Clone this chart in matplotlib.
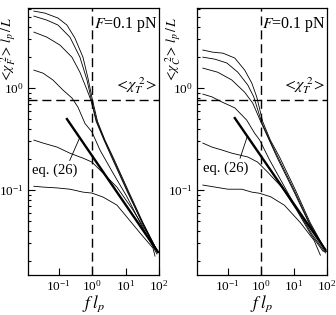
import numpy as np
import matplotlib
matplotlib.use("Agg")
from matplotlib import pyplot as plt

plt.rcParams['font.family'] = ['Liberation Serif', 'DejaVu Serif']
plt.rcParams['mathtext.fontset'] = 'stix'

# ---- data ----
# left panel: <chi_F^2> l_p / L  vs  f l_p
fA = [0.018, 0.039, 0.095, 0.176, 0.305, 0.53, 0.75, 0.99, 1.45, 2.4, 4.2, 11.8, 33, 93]
yA = [5.69, 5.43, 4.86, 4.15, 3.09, 2.01, 1.25, 0.80, 0.47, 0.31, 0.211, 0.10, 0.048, 0.0246]
fB = [0.018, 0.044, 0.095, 0.216, 0.43, 0.70, 0.92, 1.38, 2.35, 4.0, 11.5, 33, 93]
yB = [5.08, 4.64, 4.15, 3.16, 2.01, 1.2, 0.80, 0.47, 0.31, 0.211, 0.098, 0.047, 0.0246]
fC = [0.018, 0.044, 0.109, 0.248, 0.43, 0.70, 0.92, 1.32, 2.25, 3.8, 11.0, 32, 92]
yC = [3.54, 3.16, 2.64, 2.01, 1.43, 0.96, 0.76, 0.47, 0.31, 0.211, 0.098, 0.047, 0.0245]
fD = [0.018, 0.034, 0.067, 0.134, 0.248, 0.376, 0.61, 0.99, 1.71, 4.2, 11, 30, 87]
yD = [1.5, 1.40, 1.2, 0.956, 0.80, 0.65, 0.45, 0.37, 0.247, 0.147, 0.086, 0.045, 0.0236]
fE = [0.018, 0.034, 0.089, 0.216, 0.43, 0.53, 0.99, 2.1, 5.5, 16.7, 44, 76]
yE = [0.309, 0.289, 0.264, 0.23, 0.211, 0.206, 0.188, 0.147, 0.107, 0.0637, 0.038, 0.0276]
fF = [0.018, 0.034, 0.089, 0.216, 0.53, 0.99, 2.1, 5.5, 11, 27, 66, 76]
yF = [0.109, 0.107, 0.105, 0.102, 0.0955, 0.0934, 0.0855, 0.0713, 0.0543, 0.038, 0.027, 0.0225]
f_eq_L = [0.176, 93]
y_eq_L = [0.497, 0.0247]

# right panel: <chi_C^2> l_p / L  vs  f l_p
gA = [0.018, 0.036, 0.073, 0.166, 0.33, 0.54, 0.76, 1.15, 1.95, 3.7, 11.2, 31, 95]
zA = [2.36, 2.25, 2.2, 1.97, 1.5, 1.12, 0.82, 0.47, 0.31, 0.211, 0.10, 0.048, 0.025]
gB = [0.018, 0.042, 0.096, 0.205, 0.41, 0.62, 1.05, 1.85, 3.3, 10.5, 30, 94]
zB = [2.01, 1.92, 1.76, 1.43, 1.07, 0.82, 0.47, 0.31, 0.211, 0.098, 0.047, 0.025]
gC = [0.018, 0.051, 0.135, 0.33, 0.58, 1.0, 1.8, 3.1, 10, 29, 93]
zC = [1.57, 1.43, 1.2, 0.91, 0.71, 0.47, 0.31, 0.21, 0.097, 0.047, 0.0248]
gD = [0.018, 0.034, 0.068, 0.166, 0.38, 0.66, 0.93, 1.86, 4.9, 13, 35, 90]
zD = [0.873, 0.82, 0.73, 0.64, 0.485, 0.36, 0.31, 0.197, 0.112, 0.063, 0.037, 0.0242]
gE = [0.018, 0.034, 0.068, 0.135, 0.41, 0.81, 1.62, 4.3, 12, 34, 77]
zE = [0.289, 0.264, 0.247, 0.23, 0.211, 0.188, 0.15, 0.107, 0.064, 0.036, 0.025]
gF = [0.018, 0.042, 0.103, 0.27, 0.54, 0.93, 2.0, 5.2, 15.7, 41, 63]
zF = [0.112, 0.107, 0.102, 0.102, 0.0955, 0.093, 0.086, 0.071, 0.048, 0.032, 0.023]
f_eq_R = [0.166, 89]
y_eq_R = [0.508, 0.026]

chi_T2 = 0.76
f_cross = 1.0

W, H = 336, 315
fig = plt.figure(figsize=(W / 100, H / 100), dpi=100)
axL = fig.add_axes([28 / W, 40 / H, 131 / W, 267 / H])
axR = fig.add_axes([197 / W, 40 / H, 130 / W, 267 / H])


def style(ax, ylab, ylab_x):
    ax.set_xscale('log')
    ax.set_yscale('log')
    ax.set_xlim(10 ** -1.92, 100)
    ax.set_ylim(0.0147, 6.1)
    ax.set_xticks([0.1, 1, 10, 100])
    ax.set_yticks([0.1, 1])
    ax.tick_params(which='both', direction='in', top=False, right=False,
                   labelsize=9.5, width=0.8)
    ax.tick_params(which='major', length=5, pad=3)
    ax.tick_params(which='minor', length=2.5)
    for s in ax.spines.values():
        s.set_linewidth(0.9)
    ax.set_xlabel(r'$f\;l_p$', fontsize=12.5, va='top')
    ax.xaxis.set_label_coords(0.5, -0.068)
    ax.set_ylabel(ylab, fontsize=10)
    ax.yaxis.set_label_coords(ylab_x, 0.845)
    ax.axhline(chi_T2, color='k', lw=1.0, ls=(0, (6.5, 3.5)))
    ax.axvline(f_cross, color='k', lw=1.0, ls=(0, (6.5, 3.5)))


def draw(ax, curves, feq, yeq, ylab, ylab_x, xy_text, xy_tip):
    style(ax, ylab, ylab_x)
    for f, y in curves:
        ax.plot(f, y, color='k', lw=0.6)
    ax.plot(feq, yeq, color='k', lw=1.7)
    ax.annotate('eq. (26)', xy=xy_tip, xytext=xy_text, fontsize=10.5,
                ha='left', va='center',
                arrowprops=dict(arrowstyle='-', lw=0.6, color='k',
                                shrinkA=0, shrinkB=0, relpos=(0.8, 1.0)))
    ax.text(0.99, 0.975, r'$F$=0.1 pN', transform=ax.transAxes,
            ha='right', va='top', fontsize=11.5)
    ax.text(0.99, chi_T2 * 1.1, r'$<\!\chi_T^{\ 2}\!>$', transform=ax.get_yaxis_transform(),
            ha='right', va='bottom', fontsize=11.5)


draw(axL, [(fA, yA), (fB, yB), (fC, yC), (fD, yD), (fE, yE), (fF, yF)],
     f_eq_L, y_eq_L, r'$<\!\chi_F^{\ 2}\!>\,l_p\,/\,L$', -0.076,
     (0.016, 0.157), (0.43, 0.33))
draw(axR, [(gA, zA), (gB, zB), (gC, zC), (gD, zD), (gE, zE), (gF, zF)],
     f_eq_R, y_eq_R, r'$<\!\chi_C^{\ 2}\!>\,l_p\,/\,L$', -0.108,
     (0.018, 0.165), (0.40, 0.34))

fig.savefig('out.png', dpi=100)
